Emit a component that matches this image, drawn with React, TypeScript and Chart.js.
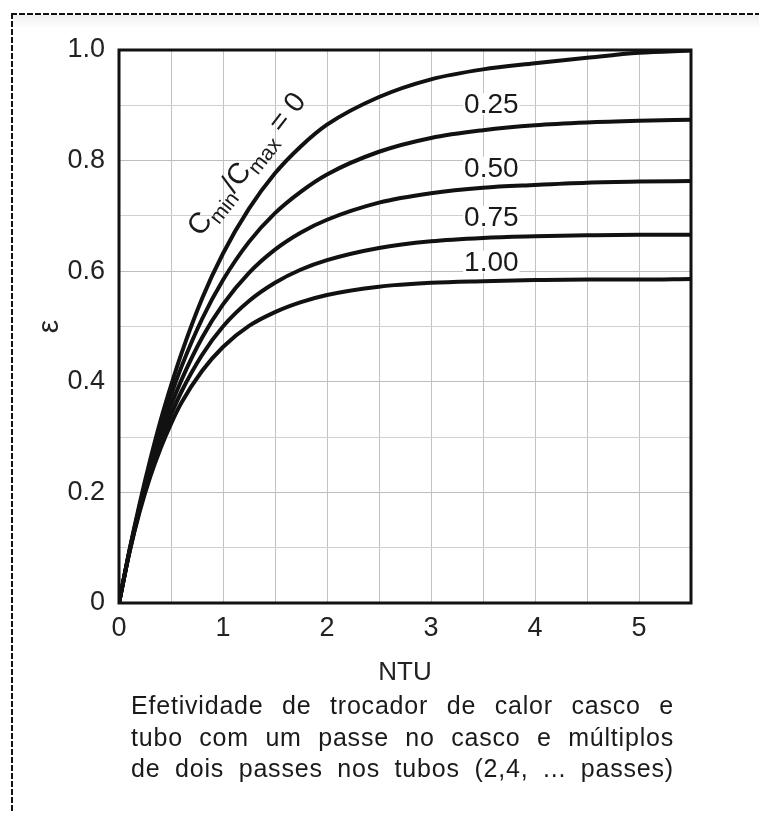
import React, { useEffect, useRef } from 'react';
import { Chart, registerables } from 'chart.js';

Chart.register(...registerables);

// NTU sample points
const ntu = [0, 0.1, 0.2, 0.3, 0.4, 0.5, 0.6, 0.8, 1.0, 1.25, 1.5, 1.75, 2.0, 2.5, 3.0, 3.5, 4.0, 4.5, 5.0, 5.5];

// Effectiveness ε for each Cmin/Cmax curve
const eps0 = [0, 0.095, 0.181, 0.259, 0.33, 0.393, 0.451, 0.551, 0.632, 0.713, 0.777, 0.826, 0.865, 0.915, 0.947, 0.965, 0.976, 0.986, 0.995, 0.999];
const eps025 = [0, 0.094, 0.177, 0.251, 0.316, 0.375, 0.427, 0.514, 0.584, 0.653, 0.705, 0.744, 0.775, 0.816, 0.841, 0.855, 0.864, 0.869, 0.872, 0.874];
const eps050 = [0, 0.093, 0.173, 0.243, 0.304, 0.357, 0.403, 0.48, 0.54, 0.597, 0.639, 0.67, 0.693, 0.724, 0.741, 0.751, 0.756, 0.76, 0.762, 0.763];
const eps075 = [0, 0.092, 0.17, 0.235, 0.292, 0.34, 0.382, 0.449, 0.5, 0.546, 0.579, 0.603, 0.62, 0.642, 0.654, 0.66, 0.663, 0.665, 0.666, 0.666];
const eps100 = [0, 0.091, 0.166, 0.228, 0.28, 0.324, 0.362, 0.42, 0.463, 0.501, 0.526, 0.544, 0.557, 0.572, 0.579, 0.582, 0.584, 0.585, 0.585, 0.586];

const seriesNames = ['Cmin/Cmax = 0', '0.25', '0.50', '0.75', '1.00'];
const xTickLabels = ['0', '1', '2', '3', '4', '5'];
const yTickLabels = ['0', '0.2', '0.4', '0.6', '0.8', '1.0'];

// Curve labels (text and the ε level they sit at, at a common NTU)
const curveLabels = ['0.25', '0.50', '0.75', '1.00'];
const curveLabelEps = [0.902, 0.787, 0.698, 0.617];
const curveLabelNtu = 3.58;
const ratioLabelNtu = 1.22;
const ratioLabelEps = 0.795;

const xTitle = 'NTU';
const yTitle = 'ε';
const captionLines = [
  'Efetividade de trocador de calor casco e',
  'tubo com um passe no casco e múltiplos',
  'de dois passes nos tubos (2,4, ... passes)',
];

const FONT = '"Liberation Sans", Arial, Helvetica, sans-serif';

const annotatePlugin = {
  id: 'annotate',
  afterDraw(chart: any) {
    const { ctx, chartArea: a } = chart;
    const xs = chart.scales.x;
    const ys = chart.scales.y;
    ctx.save();
    // frame
    ctx.strokeStyle = '#111';
    ctx.lineWidth = 3;
    ctx.strokeRect(a.left, a.top, a.right - a.left, a.bottom - a.top);

    // value labels
    ctx.font = `28px ${FONT}`;
    ctx.textAlign = 'center';
    ctx.textBaseline = 'middle';
    curveLabels.forEach((t, i) => {
      const px = xs.getPixelForValue(curveLabelNtu);
      const py = ys.getPixelForValue(curveLabelEps[i]);
      const w = ctx.measureText(t).width;
      ctx.fillStyle = '#fff';
      ctx.fillRect(px - w / 2 - 1, py - 11, w + 2, 22);
      ctx.fillStyle = '#1a1a1a';
      ctx.fillText(t, px, py + 1);
    });

    // rotated ratio label
    const cx = xs.getPixelForValue(ratioLabelNtu);
    const cy = ys.getPixelForValue(ratioLabelEps);
    const big = `29px ${FONT}`;
    const sub = `21px ${FONT}`;
    const parts = [
      { t: 'C', f: big, dy: 10 },
      { t: 'min', f: sub, dy: 17 },
      { t: '/', f: big, dy: 10 },
      { t: 'C', f: big, dy: 10 },
      { t: 'max', f: sub, dy: 17 },
      { t: ' = 0', f: big, dy: 10 },
    ];
    let total = 0;
    parts.forEach((p) => {
      ctx.font = p.f;
      total += ctx.measureText(p.t).width;
    });
    ctx.translate(cx, cy);
    ctx.rotate((-52 * Math.PI) / 180);
    ctx.textAlign = 'left';
    ctx.textBaseline = 'alphabetic';
    ctx.fillStyle = '#1a1a1a';
    let xx = -total / 2;
    parts.forEach((p) => {
      ctx.font = p.f;
      ctx.fillText(p.t, xx, p.dy);
      xx += ctx.measureText(p.t).width;
    });
    ctx.restore();
  },
};

export default function App() {
  const canvasRef = useRef<HTMLCanvasElement | null>(null);

  useEffect(() => {
    if (!canvasRef.current) return;
    const series = [eps0, eps025, eps050, eps075, eps100];
    const chart = new Chart(canvasRef.current, {
      type: 'line',
      data: {
        datasets: series.map((s, i) => ({
          label: seriesNames[i],
          data: ntu.map((n, j) => ({ x: n, y: s[j] })),
          borderColor: '#111',
          borderWidth: 4,
          pointRadius: 0,
          fill: false,
          cubicInterpolationMode: 'monotone' as const,
        })),
      },
      options: {
        responsive: false,
        animation: false,
        devicePixelRatio: 1,
        layout: { padding: { left: 0, top: 42, right: 17, bottom: 5 } },
        plugins: {
          legend: { display: false },
          tooltip: { enabled: false },
        },
        scales: {
          x: {
            type: 'linear',
            min: 0,
            max: 5.5,
            ticks: {
              stepSize: 0.5,
              autoSkip: false,
              maxRotation: 0,
              padding: 9,
              color: '#222',
              font: { family: FONT, size: 27 },
              callback: (v: any) => {
                const n = Number(v);
                return Number.isInteger(n) && n < xTickLabels.length ? xTickLabels[n] : '';
              },
            },
            grid: { color: '#c2c2c2', lineWidth: 1, drawTicks: false },
            border: { display: false },
            title: {
              display: true,
              text: xTitle,
              color: '#222',
              font: { family: FONT, size: 26 },
              padding: { top: 0, bottom: 5 },
            },
            afterFit: (s: any) => {
              s.height = 90;
            },
          },
          y: {
            type: 'linear',
            min: 0,
            max: 1,
            ticks: {
              stepSize: 0.1,
              autoSkip: false,
              padding: 14,
              color: '#222',
              font: { family: FONT, size: 27 },
              callback: (v: any) => {
                const k = Math.round(Number(v) * 10);
                return k % 2 === 0 ? yTickLabels[k / 2] : '';
              },
            },
            grid: {
              color: (c: any) => {
                const k = Math.round((c.tick ? c.tick.value : 0) * 10);
                return k % 2 === 0 ? '#bdbdbd' : '#d0d0d0';
              },
              lineWidth: 1,
              drawTicks: false,
            },
            border: { display: false },
            title: {
              display: true,
              text: yTitle,
              color: '#222',
              font: { family: FONT, size: 30 },
              padding: { top: 24, bottom: 0 },
            },
            afterFit: (s: any) => {
              s.width = 111;
            },
          },
        },
      },
      plugins: [annotatePlugin],
    } as any);
    return () => chart.destroy();
  }, []);

  return (
    <div style={{ position: 'relative', width: 759, height: 805, overflow: 'hidden' }}>
      <div
        style={{
          position: 'absolute',
          left: 5,
          top: 7,
          width: 760,
          height: 14,
          background: 'linear-gradient(to bottom, #efefef, #ffffff)',
        }}
      />
      <div
        style={{
          position: 'absolute',
          left: 3,
          top: 5,
          width: 2,
          height: 810,
          background: 'repeating-linear-gradient(to bottom, #111 0px, #111 6px, transparent 6px, transparent 8px)',
        }}
      />
      <div
        style={{
          position: 'absolute',
          left: 3,
          top: 5,
          width: 760,
          height: 2,
          background: 'repeating-linear-gradient(to right, #111 0px, #111 6px, transparent 6px, transparent 8px)',
        }}
      />
      <canvas
        ref={canvasRef}
        width={700}
        height={690}
        style={{ position: 'absolute', left: 0, top: 0, width: 700, height: 690 }}
      />
      <div
        style={{
          position: 'absolute',
          left: 123,
          top: 682,
          width: 543,
          fontFamily: FONT,
          fontSize: 25,
          lineHeight: '31.5px',
          letterSpacing: '0.8px',
          color: '#1a1a1a',
        }}
      >
        {captionLines.map((l, i) => (
          <div key={i} style={{ textAlign: 'justify', textAlignLast: 'justify' as any }}>
            {l}
          </div>
        ))}
      </div>
    </div>
  );
}
